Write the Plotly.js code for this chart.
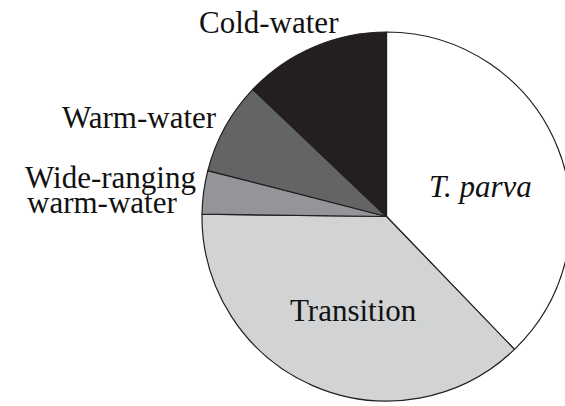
<!DOCTYPE html>
<html>
<head>
<meta charset="utf-8">
<script src="https://cdn.plot.ly/plotly-3.0.1.min.js"></script>
<style>
html, body { margin: 0; padding: 0; overflow: hidden; background: #ffffff; }
#chart { width: 580px; height: 406px; }
</style>
</head>
<body>
<div id="chart"></div>
<script>
// Data (percent share of each group), clockwise from 12 o'clock
var categories = ["T. parva", "Transition", "Wide-ranging warm-water", "Warm-water", "Cold-water"];
var values = [37.8, 37.4, 3.8, 8.1, 12.9];
var sliceColors = ["#ffffff", "#d1d3d4", "#939598", "#636466", "#231f20"];

// Label text (display) for each slice
var labelLines = {
  "T. parva": ["<i>T. parva</i>"],
  "Transition": ["Transition"],
  "Wide-ranging warm-water": ["Wide-ranging", "warm-water"],
  "Warm-water": ["Warm-water"],
  "Cold-water": ["Cold-water"]
};

var W = 580, H = 406;
var M = { l: 202, r: 9, t: 32, b: 5 };
var plotW = W - M.l - M.r, plotH = H - M.t - M.b;
function px(x) { return (x - M.l) / plotW; }
function py(y) { return 1 - (y - M.t) / plotH; }

// label placement in pixel space (left edge, vertical center)
var labelPos = {
  "T. parva": [[427, 187]],
  "Transition": [[288, 310]],
  "Wide-ranging warm-water": [[23, 178], [25, 202]],
  "Warm-water": [[60, 118]],
  "Cold-water": [[197, 22]]
};

var annotations = [];
categories.forEach(function (c) {
  labelLines[c].forEach(function (t, i) {
    var p = labelPos[c][i];
    annotations.push({
      text: t, xref: "paper", yref: "paper",
      x: px(p[0]), y: py(p[1]), xanchor: "left", yanchor: "middle",
      showarrow: false,
      font: { family: "Liberation Serif, Times New Roman, serif", size: 31, color: "#111111" }
    });
  });
});

var trace = {
  type: "pie",
  labels: categories,
  values: values,
  sort: false,
  direction: "clockwise",
  rotation: 0,
  textinfo: "none",
  hoverinfo: "label+percent",
  marker: { colors: sliceColors, line: { color: "#231f20", width: 1.2 } },
  showlegend: false
};

var layout = {
  width: W, height: H,
  margin: M,
  paper_bgcolor: "#ffffff",
  plot_bgcolor: "#ffffff",
  showlegend: false,
  annotations: annotations
};

Plotly.newPlot("chart", [trace], layout, { displayModeBar: false, staticPlot: true });
</script>
</body>
</html>
